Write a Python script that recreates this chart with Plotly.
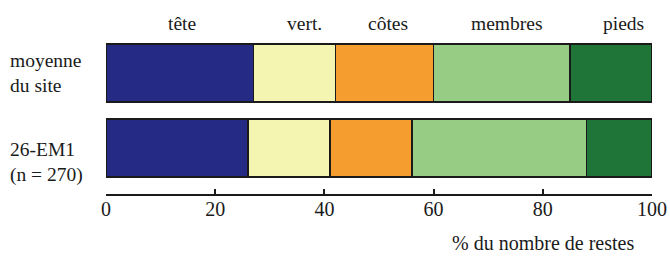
import plotly.graph_objects as go

categories = ["26-EM1", "moyenne"]
category_labels = ["26-EM1<br>(n = 270)", "moyenne<br>du site"]
parts = ["tête", "vert.", "côtes", "membres", "pieds"]
tete = [26, 27]
vert = [15, 15]
cotes = [15, 18]
membres = [32, 25]
pieds = [12, 15]
series_values = [tete, vert, cotes, membres, pieds]
colors = ["#252a85", "#f5f5b2", "#f59d2f", "#97cc85", "#1f7538"]
x_ticks = [0, 20, 40, 60, 80, 100]

FONT = "'Liberation Serif', 'DejaVu Serif', serif"

fig = go.Figure()
for name, vals, col in zip(parts, series_values, colors):
    fig.add_trace(go.Bar(
        y=categories, x=vals, name=name, orientation="h",
        marker=dict(color=col, line=dict(color="#1a1a1a", width=1.5)),
        width=0.773, showlegend=False, hoverinfo="skip",
    ))

# part labels above the top bar, centred on its segments
top_idx = 1
cum = 0
label_shift = [2, 10, 4, 5, 12]
for name, vals, sh in zip(parts, series_values, label_shift):
    v = vals[top_idx]
    fig.add_annotation(x=cum + v / 2, y=1.0, yref="paper", text=name,
                       showarrow=False, xanchor="center", yanchor="middle",
                       xshift=sh, yshift=12, font=dict(family=FONT, size=19.5, color="#1a1a1a"))
    cum += v

# category labels, left aligned
cat_shift = [-14, 0]
for cat, lab, sh in zip(categories, category_labels, cat_shift):
    fig.add_annotation(x=-0.1795, xref="paper", y=cat, yref="y", text=lab,
                       showarrow=False, xanchor="left", yanchor="middle", align="left",
                       yshift=sh, font=dict(family=FONT, size=19.5, color="#1a1a1a"))

fig.add_annotation(x=0.971, xref="paper", y=-0.308, yref="paper",
                   text="% du nombre de restes", showarrow=False,
                   xanchor="right", yanchor="middle",
                   font=dict(family=FONT, size=20, color="#1a1a1a"))

fig.update_layout(
    barmode="stack",
    width=670, height=257,
    margin=dict(l=106, r=18, t=35, b=63, autoexpand=False),
    paper_bgcolor="white", plot_bgcolor="white",
    font=dict(family=FONT, size=19, color="#1a1a1a"),
    xaxis=dict(range=[0, 100], tickvals=x_ticks, ticks="inside", ticklen=5,
               tickwidth=2, tickcolor="#1a1a1a", showline=True, linecolor="#1a1a1a",
               linewidth=1.5, showgrid=False, zeroline=False, automargin=False,
               ticklabelstandoff=-4,
               tickfont=dict(family=FONT, size=20, color="#1a1a1a")),
    yaxis=dict(categoryorder="array", categoryarray=categories,
               range=[-0.613, 1.507], showticklabels=False, showgrid=False,
               zeroline=False, showline=False, ticks="", automargin=False),
)

fig.write_html("out.html", config={"displayModeBar": False},
               post_script="document.body.style.margin='0';")
